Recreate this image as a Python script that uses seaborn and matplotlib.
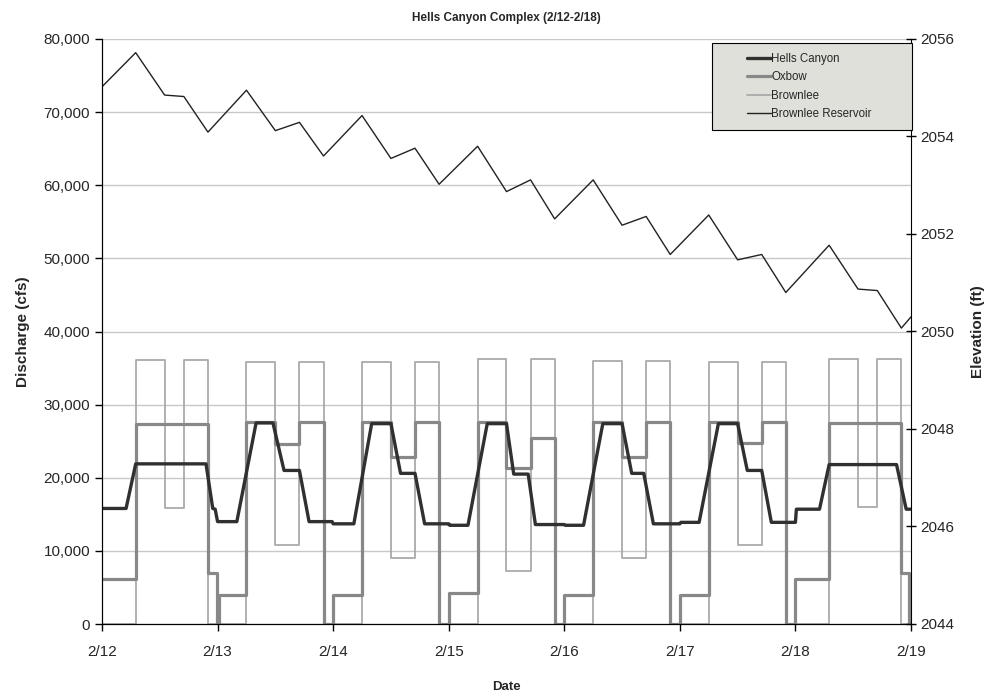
import numpy as np
import pandas as pd
import seaborn as sns
import matplotlib
matplotlib.use("Agg")
import matplotlib.pyplot as plt
from matplotlib.lines import Line2D
from matplotlib.legend_handler import HandlerLine2D
from matplotlib.ticker import FuncFormatter

# hours since 2/12 00:00
hc_hours = [0, 5, 7, 21.6, 23, 23.5, 24, 28, 32, 35.5, 37.8, 41, 43, 47.8, 48, 52.3,
            56, 60, 62, 65, 67, 72, 72.2, 76, 80, 84, 85.5, 88.5, 90, 96, 96.2, 100,
            104, 108, 110, 112.5, 114.5, 120, 120.2, 124, 128, 132, 134, 137, 139,
            144, 144.2, 149, 151, 165, 167, 168]
hc_cfs = [15800, 15800, 21900, 21900, 15800, 15700, 14000, 14000, 27500, 27500, 21000,
          21000, 14000, 14000, 13700, 13700, 27400, 27400, 20600, 20600, 13700, 13700,
          13500, 13500, 27400, 27400, 20500, 20500, 13600, 13600, 13500, 13500, 27400,
          27400, 20600, 20600, 13700, 13700, 13900, 13900, 27400, 27400, 21000, 21000,
          13900, 13900, 15700, 15700, 21800, 21800, 15700, 15700]

# step series: value holds from each hour until the next one
ox_hours = [0, 7, 22, 23.9, 24.3, 30, 36, 41, 46, 48, 54, 60, 65, 70, 72, 78, 84, 89,
            94, 96, 102, 108, 113, 118, 120, 126, 132, 137, 142, 144, 151, 166, 167.5, 168]
ox_cfs = [6200, 27400, 7000, 0, 3900, 27600, 24600, 27600, 0, 3900, 27600, 22800, 27600,
          0, 4300, 27600, 21300, 25400, 0, 3900, 27600, 22800, 27600, 0, 4000, 27600,
          24700, 27600, 0, 6200, 27500, 7000, 0, 0]

br_hours = [0, 7, 13, 17, 22, 30, 36, 41, 46, 54, 60, 65, 70, 78, 84, 89, 94, 102, 108,
            113, 118, 126, 132, 137, 142, 151, 157, 161, 166, 168]
br_cfs = [0, 36100, 15800, 36100, 0, 35800, 10800, 35800, 0, 35800, 9000, 35800, 0,
          36200, 7300, 36200, 0, 35900, 9000, 35900, 0, 35800, 10800, 35800, 0, 36300,
          16000, 36300, 0, 0]

res_hours = [0, 7, 13, 17, 22, 30, 36, 41, 46, 54, 60, 65, 70, 78, 84, 89, 94, 102, 108,
             113, 118, 126, 132, 137, 142, 151, 157, 161, 166, 168]
res_elev = [2055.02, 2055.72, 2054.85, 2054.82, 2054.09, 2054.95, 2054.12, 2054.29,
            2053.60, 2054.43, 2053.55, 2053.76, 2053.02, 2053.80, 2052.87, 2053.11,
            2052.31, 2053.11, 2052.18, 2052.36, 2051.58, 2052.39, 2051.47, 2051.58,
            2050.80, 2051.77, 2050.87, 2050.84, 2050.07, 2050.30]

day_labels = ["2/12", "2/13", "2/14", "2/15", "2/16", "2/17", "2/18", "2/19"]

sns.set_style("white")
plt.rcParams["font.family"] = ["Liberation Sans", "DejaVu Sans"]

fig = plt.figure(figsize=(9.87, 6.96), dpi=100)
ax = fig.add_axes([102 / 987, 1 - 624 / 696, 809 / 987, 585 / 696])
ax2 = ax.twinx()

sns.lineplot(x=br_hours, y=br_cfs, ax=ax, color="#aaaaaa", linewidth=1.3,
             estimator=None, sort=False, drawstyle="steps-post")
sns.lineplot(x=ox_hours, y=ox_cfs, ax=ax, color="#888888", linewidth=2.3,
             estimator=None, sort=False, drawstyle="steps-post")
sns.lineplot(x=hc_hours, y=hc_cfs, ax=ax, color="#303030", linewidth=2.4,
             estimator=None, sort=False)
sns.lineplot(x=res_hours, y=res_elev, ax=ax2, color="#222222", linewidth=1.0,
             estimator=None, sort=False)

ax.set_xlim(0, 168)
ax.set_ylim(0, 80000)
ax2.set_ylim(2044, 2056)
ax.set_xticks(np.arange(0, 169, 24))
ax.set_xticklabels(day_labels)
ax.set_yticks(np.arange(0, 80001, 10000))
ax.yaxis.set_major_formatter(FuncFormatter(lambda v, p: f"{int(v):,}"))
ax2.set_yticks(np.arange(2044, 2057, 2))

ax.yaxis.grid(True, color="#c8c8c8", linewidth=1.0)
ax.set_axisbelow(True)
for sp in ["top"]:
    ax.spines[sp].set_visible(False)
    ax2.spines[sp].set_visible(False)
for sp in ["left", "bottom", "right"]:
    ax.spines[sp].set_color("black")
    ax2.spines[sp].set_color("black")
ax.spines["right"].set_visible(False)

ax.tick_params(axis="y", which="major", labelsize=11, length=5, color="black",
               direction="out", width=1, left=True)
ax.tick_params(axis="x", which="major", labelsize=11, length=5, color="black",
               direction="out", width=1, bottom=True, pad=10)
ax2.tick_params(axis="y", labelsize=11, length=7, direction="inout", color="black",
                width=1, right=True)

ax.set_xlabel("Date", fontsize=9.5, fontweight="bold", labelpad=16)
ax.set_ylabel("Discharge (cfs)", fontsize=11, fontweight="bold", labelpad=10)
ax2.set_ylabel("Elevation (ft)", fontsize=11, fontweight="bold", labelpad=12)
ax.set_title("Hells Canyon Complex (2/12-2/18)", fontsize=8.5, fontweight="bold", pad=13)

handles = [Line2D([], [], color="#303030", linewidth=2.4),
           Line2D([], [], color="#888888", linewidth=2.3),
           Line2D([], [], color="#aaaaaa", linewidth=1.3),
           Line2D([], [], color="#222222", linewidth=1.0)]
labels = ["Hells Canyon", "Oxbow", "Brownlee", "Brownlee Reservoir"]
if ax.get_legend() is not None:
    ax.get_legend().remove()
leg = ax2.legend(handles, labels, loc="upper left",
                 bbox_to_anchor=(0.754, 0.993 - 0.161, 0.247, 0.161), mode="expand",
                 fontsize=8.3, frameon=True, fancybox=False, framealpha=1,
                 facecolor="#e0e0da", edgecolor="black", handlelength=4.3,
                 handletextpad=0.0, labelspacing=0.55, borderpad=0.85, borderaxespad=0,
                 handler_map={Line2D: HandlerLine2D(xpad=2.2)})
leg.get_frame().set_linewidth(0.8)

fig.savefig("out.png", dpi=100)
